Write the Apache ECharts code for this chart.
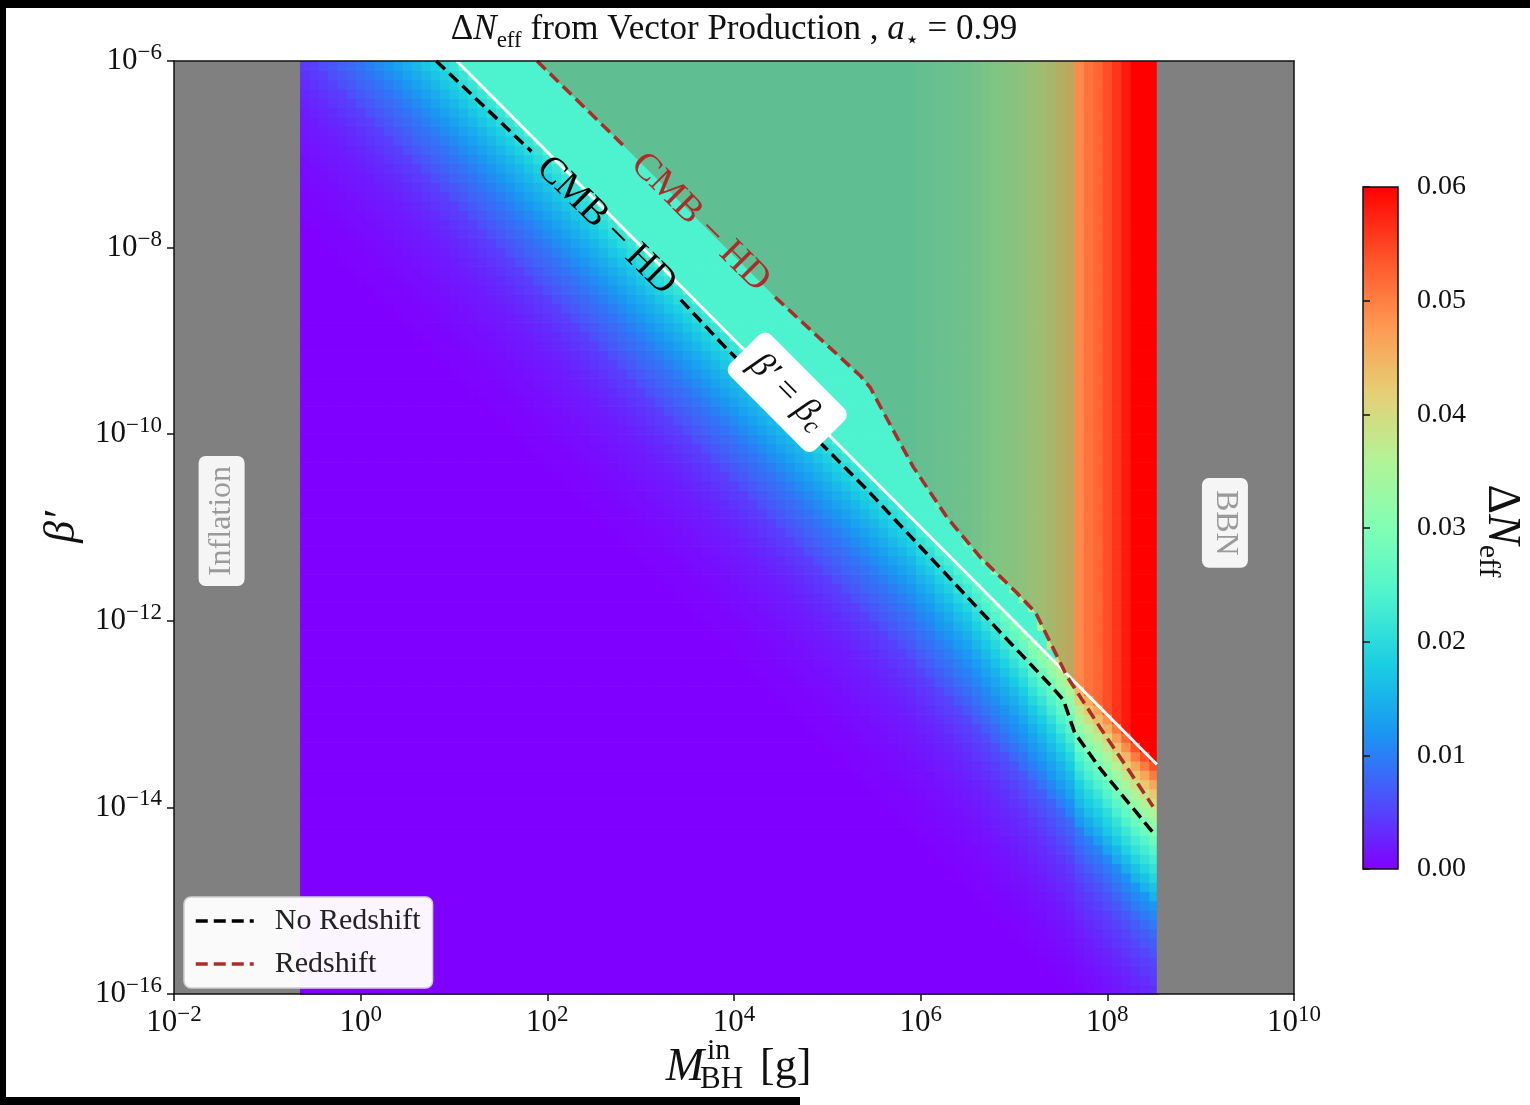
<!DOCTYPE html>
<html>
<head>
<meta charset="utf-8">
<script src="https://cdn.jsdelivr.net/npm/echarts@6/dist/echarts.min.js"></script>
<style>
  html, body { margin: 0; padding: 0; width: 1530px; height: 1105px; background: #000; overflow: hidden; }
  #paper { position: absolute; left: 6px; top: 8px; width: 1524px; height: 1097px; background: #fff; }
  #edge { position: absolute; left: 0; top: 1097px; width: 800px; height: 8px; background: #000; }
  #chart { position: absolute; left: 0; top: 0; width: 1530px; height: 1105px; }
</style>
</head>
<body>
<div id="paper"></div>
<div id="edge"></div>
<div id="chart"></div>
<script>
// ---------------- axis ranges and ticks (log10 units) ----------------
const massRange = [-2, 10];            // log10 M_BH^in [g]
const betaRange = [-16, -6];           // log10 beta'
const xTickExps = [-2, 0, 2, 4, 6, 8, 10];
const yTickExps = [-16, -14, -12, -10, -8, -6];
const cbRange = [0, 0.06];
const cbStep = 0.01;

// excluded mass windows (log10 M)
const inflationBand = [-2, -0.65];
const bbnBand = [8.53, 10];

// ---------------- Delta N_eff grid ----------------
// columns: log10 M centres starting at firstMassCol, rows: log10 beta' centres
const cellStep = 0.1;
const firstMassCol = -0.6;
const firstBetaRow = -15.95;
const betaRowCount = 100;

// Delta N_eff far above the critical line, one value per mass column (-0.6 ... 8.5)
const plateau = [
  0.024, 0.024, 0.024, 0.024, 0.024, 0.024, 0.024, 0.024, 0.024, 0.024,   // -0.6 .. 0.3
  0.024, 0.024, 0.024, 0.024, 0.024, 0.024, 0.024, 0.024, 0.024, 0.024,   //  0.4 .. 1.3
  0.024, 0.024, 0.024, 0.024, 0.024, 0.024, 0.024, 0.024, 0.024, 0.024,   //  1.4 .. 2.3
  0.024, 0.024, 0.024, 0.024, 0.024, 0.024, 0.024, 0.024, 0.024, 0.024,   //  2.4 .. 3.3
  0.024, 0.024, 0.024, 0.024, 0.024, 0.024, 0.024, 0.024, 0.024, 0.024,   //  3.4 .. 4.3
  0.024, 0.024, 0.024, 0.024, 0.024, 0.024, 0.024, 0.024, 0.024, 0.024,   //  4.4 .. 5.3
  0.024, 0.024, 0.024, 0.024, 0.024, 0.024,                               //  5.4 .. 5.9
  0.025, 0.025, 0.026, 0.026, 0.027, 0.027, 0.028, 0.029, 0.030, 0.031,   //  6.0 .. 6.9
  0.032, 0.033, 0.035, 0.036, 0.038, 0.040, 0.042, 0.049, 0.051, 0.052,   //  7.0 .. 7.9
  0.054, 0.056, 0.058, 0.060, 0.060, 0.060                                //  8.0 .. 8.5
];
// value in the strip between the critical line and the redshift curve
const stripValue = 0.024;

// fraction of the plateau value, per 0.1 decade below the critical line
const falloff = [
  0.90, 0.84, 0.77, 0.71, 0.65, 0.60, 0.55, 0.50, 0.46, 0.42,
  0.38, 0.35, 0.32, 0.28, 0.25, 0.20, 0.18, 0.16, 0.14, 0.12,
  0.105, 0.09, 0.08, 0.07, 0.06, 0.05, 0.042, 0.035, 0.028, 0.022,
  0.017, 0.012, 0.008, 0.004
];

// ---------------- curves (log10 M, log10 beta') ----------------
const criticalLine = [[1.03, -6.0], [8.53, -13.54]];
// CMB-HD reach without redshift (two pieces around the inline label)
const noRedshiftA = [[0.81, -6.0], [1.83, -6.97]];
const noRedshiftB = [[3.43, -8.56], [3.88, -9.04], [5.43, -10.60], [6.85, -12.12],
                     [7.39, -12.69], [7.53, -12.85], [7.65, -13.20], [7.92, -13.58], [8.49, -14.27]];
// CMB-HD reach with redshift
const redshiftA = [[1.89, -6.0], [2.84, -6.93]];
const redshiftB = [[4.44, -8.53], [5.24, -9.27], [5.35, -9.37], [5.46, -9.50], [5.56, -9.69], [5.92, -10.35],
                   [6.28, -10.89], [6.64, -11.32], [7.03, -11.70], [7.23, -11.91], [7.57, -12.60],
                   [7.92, -13.14], [8.49, -13.99]];
// shaded reach region stops at this mass
const shadeEdge = 7.65;

// text anchors
const criticalLabelAt = [4.57, -9.55];
const inflationLabelAt = [-1.49, -10.93];
const bbnLabelAt = [9.26, -10.95];

// rainbow colour map for Delta N_eff
const palette = ['#8000ff', '#4d4ffc', '#1a96f3', '#1acee3', '#4df3ce', '#80ffb4',
                 '#b3f396', '#e6ce74', '#ff964f', '#ff4f28', '#ff0000'];

const SERIF = '"Liberation Serif", "DejaVu Serif", serif';
const RED = '#ad2c27';
const DASH = [12, 6];

// ---------------- helpers ----------------
const p10 = e => Math.pow(10, e);
const toRaw = pts => pts.map(p => [p10(p[0]), p10(p[1])]);
function lineAt(pts, lm) {
  let i = 0;
  while (i < pts.length - 2 && lm > pts[i + 1][0]) i++;
  const a = pts[i], b = pts[i + 1];
  return a[1] + (b[1] - a[1]) * (lm - a[0]) / (b[0] - a[0]);
}
function supExp(e) { return e < 0 ? '\u2212' + (-e) : String(e); }

const redFull = redshiftA.concat(redshiftB);

// build heatmap cells from the column plateau, the strip value and the fall-off below the critical line
const cells = [];
plateau.forEach((p, i) => {
  const lm = firstMassCol + i * cellStep;
  const lbc = lineAt(criticalLine, lm);
  const lbr = lineAt(redFull, lm);
  for (let j = 0; j < betaRowCount; j++) {
    const lb = firstBetaRow + j * cellStep;
    const d = lbc - lb;
    let v;
    if (d > 0) {
      const k = Math.floor(d / cellStep + 1e-9);
      v = k < falloff.length ? p * falloff[k] : 0;
    } else {
      v = lb < lbr ? Math.min(p, stripValue) : p;
    }
    cells.push([p10(lm), p10(lb), v]);
  }
});

// shaded region above the redshift curve, left of shadeEdge
const shadePoly = redFull.filter(p => p[0] < shadeEdge);
shadePoly.push([shadeEdge, lineAt(redFull, shadeEdge)]);
shadePoly.push([shadeEdge, betaRange[1]]);

const chart = echarts.init(document.getElementById('chart'), null, { renderer: 'canvas' });

function rich(size) {
  return {
    b: { fontSize: size, fontFamily: SERIF, color: '#111', lineHeight: size + 8, verticalAlign: 'middle' },
    s: { fontSize: Math.round(size * 0.74), fontFamily: SERIF, color: '#111', lineHeight: Math.round(size * 0.62), verticalAlign: 'top' }
  };
}

const frameAxis = { show: true, lineStyle: { color: '#111', width: 1.5 } };

const option = {
  animation: false,
  backgroundColor: 'transparent',
  grid: [
    { left: 174, top: 61, width: 1120, height: 933 },
    { left: 1363, top: 187, width: 35, height: 682 }
  ],
  xAxis: [
    {
      type: 'log', gridIndex: 0, logBase: 10, min: p10(massRange[0]), max: p10(massRange[1]), interval: 2,
      position: 'bottom', z: 10,
      axisLine: frameAxis,
      axisTick: { show: true, inside: false, length: 7, lineStyle: { color: '#111', width: 1.5 },
                  customValues: xTickExps.map(p10) },
      axisLabel: {
        margin: 9, customValues: xTickExps.map(p10),
        formatter: v => '{b|10}{s|' + supExp(Math.round(Math.log10(v))) + '}',
        rich: rich(31)
      },
      splitLine: { show: false }, minorTick: { show: false }
    },
    {
      type: 'log', gridIndex: 0, logBase: 10, min: p10(massRange[0]), max: p10(massRange[1]),
      position: 'top', z: 10, axisLine: frameAxis,
      axisTick: { show: false }, axisLabel: { show: false }, splitLine: { show: false }
    },
    { type: 'value', gridIndex: 1, min: 0, max: 1, show: false }
  ],
  yAxis: [
    {
      type: 'log', gridIndex: 0, logBase: 10, min: p10(betaRange[0]), max: p10(betaRange[1]), interval: 2,
      position: 'left', z: 10,
      axisLine: frameAxis,
      axisTick: { show: true, inside: false, length: 7, lineStyle: { color: '#111', width: 1.5 },
                  customValues: yTickExps.map(p10) },
      axisLabel: {
        margin: 12, customValues: yTickExps.map(p10),
        formatter: v => '{b|10}{s|' + supExp(Math.round(Math.log10(v))) + '}',
        rich: rich(31)
      },
      splitLine: { show: false }, minorTick: { show: false }
    },
    {
      type: 'log', gridIndex: 0, logBase: 10, min: p10(betaRange[0]), max: p10(betaRange[1]),
      position: 'right', z: 10, axisLine: frameAxis,
      axisTick: { show: false }, axisLabel: { show: false }, splitLine: { show: false }
    },
    {
      type: 'value', gridIndex: 1, min: cbRange[0], max: cbRange[1], interval: cbStep, position: 'right', z: 10,
      axisLine: { show: false },
      axisTick: { show: true, inside: false, length: 7, lineStyle: { color: '#111', width: 1.5 } },
      axisLabel: { margin: 19, fontSize: 28, fontFamily: SERIF, color: '#111', formatter: v => v.toFixed(2) },
      splitLine: { show: false }
    }
  ],
  visualMap: {
    show: false, type: 'continuous', min: cbRange[0], max: cbRange[1], dimension: 2, seriesIndex: 0,
    inRange: { color: palette }
  },
  legend: {
    data: ['No Redshift', 'Redshift'],
    orient: 'vertical', left: 184, top: 897,
    backgroundColor: 'rgba(255,255,255,0.96)', borderColor: '#cfcfcf', borderWidth: 1.5, borderRadius: 7,
    padding: [9, 12, 9, 10], itemGap: 13, itemWidth: 58, itemHeight: 14,
    itemStyle: { opacity: 0 },
    lineStyle: { width: 3.5, type: DASH, cap: 'butt' },
    textStyle: { fontFamily: SERIF, fontSize: 30, color: '#222', padding: [0, 0, 0, 16] }
  },
  graphic: [
    {
      type: 'text', x: 734, y: 30, z: 20,
      style: {
        text: '{d|\u0394}{i|N}{u|eff}{r| from Vector Production , }{i|a}{u|\u22c6}{r| = 0.99}',
        align: 'center', verticalAlign: 'middle',
        rich: {
          d: { fontSize: 35, fontFamily: SERIF, fill: '#111', lineHeight: 44, verticalAlign: 'middle' },
          i: { fontSize: 35, fontFamily: SERIF, fontStyle: 'italic', fill: '#111', lineHeight: 44, verticalAlign: 'middle' },
          r: { fontSize: 35, fontFamily: SERIF, fill: '#111', lineHeight: 44, verticalAlign: 'middle' },
          u: { fontSize: 23, fontFamily: SERIF, fill: '#111', lineHeight: 24, verticalAlign: 'bottom' }
        }
      }
    },
    { type: 'text', x: 685, y: 1068, z: 20,
      style: { text: 'M', font: 'italic 46px ' + SERIF, fill: '#111', align: 'center', verticalAlign: 'middle' } },
    { type: 'text', x: 707, y: 1051, z: 20,
      style: { text: 'in', font: '30px ' + SERIF, fill: '#111', align: 'left', verticalAlign: 'middle' } },
    { type: 'text', x: 700, y: 1080, z: 20,
      style: { text: 'BH', font: '31px ' + SERIF, fill: '#111', align: 'left', verticalAlign: 'middle' } },
    { type: 'text', x: 760, y: 1067, z: 20,
      style: { text: '[g]', font: '44px ' + SERIF, fill: '#111', align: 'left', verticalAlign: 'middle' } },
    { type: 'text', x: 62, y: 527, rotation: Math.PI / 2, z: 20,
      style: { text: '\u03b2\u2032', font: 'italic 44px ' + SERIF, fill: '#111', align: 'center', verticalAlign: 'middle' } },
    {
      type: 'text', x: 1501, y: 531, rotation: -Math.PI / 2, z: 20,
      style: {
        text: '{d|\u0394}{i|N}{u|eff}', align: 'center', verticalAlign: 'middle',
        rich: {
          d: { fontSize: 46, fontFamily: SERIF, fill: '#111', lineHeight: 56, verticalAlign: 'middle' },
          i: { fontSize: 46, fontFamily: SERIF, fontStyle: 'italic', fill: '#111', lineHeight: 56, verticalAlign: 'middle' },
          u: { fontSize: 30, fontFamily: SERIF, fill: '#111', lineHeight: 30, verticalAlign: 'bottom' }
        }
      }
    }
  ],
  series: [
    // 0: Delta N_eff heatmap
    {
      type: 'custom', name: 'heat', xAxisIndex: 0, yAxisIndex: 0, z: 1, progressive: 0, silent: true,
      dimensions: ['M', 'beta', 'dN'], encode: { x: 0, y: 1 },
      data: cells,
      renderItem: (params, api) => {
        const m = api.value(0), b = api.value(1);
        const h = p10(cellStep / 2);
        const a = api.coord([m / h, b * h]);
        const c = api.coord([m * h, b / h]);
        return { type: 'rect', shape: { x: a[0], y: a[1], width: c[0] - a[0] + 0.7, height: c[1] - a[1] + 0.7 },
                 style: { fill: api.visual('color') } };
      }
    },
    // 1: excluded mass windows
    {
      type: 'custom', name: 'bands', xAxisIndex: 0, yAxisIndex: 0, z: 2, silent: true,
      encode: { x: 0 }, data: [inflationBand, bbnBand].map(r => [p10(r[0]), p10(r[1])]),
      renderItem: (params, api) => {
        const a = api.coord([api.value(0), p10(betaRange[1])]);
        const c = api.coord([api.value(1), p10(betaRange[0])]);
        return { type: 'rect', shape: { x: a[0], y: a[1], width: c[0] - a[0], height: c[1] - a[1] },
                 style: { fill: '#808080' } };
      }
    },
    // 2: shaded region reached with redshift
    {
      type: 'custom', name: 'shade', xAxisIndex: 0, yAxisIndex: 0, z: 3, silent: true,
      data: [[1, 1e-10]],
      renderItem: (params, api) => ({
        type: 'polygon',
        shape: { points: toRaw(shadePoly).map(p => api.coord(p)) },
        style: { fill: 'rgba(124,110,61,0.40)' }
      })
    },
    // 3: critical line
    {
      type: 'line', name: 'critical', xAxisIndex: 0, yAxisIndex: 0, z: 4, symbol: 'none', silent: true,
      data: toRaw(criticalLine), lineStyle: { color: '#fff', width: 3 }
    },
    // 4-5: no redshift
    {
      type: 'line', name: 'No Redshift', xAxisIndex: 0, yAxisIndex: 0, z: 5, symbol: 'none', silent: true,
      data: toRaw(noRedshiftA), lineStyle: { color: '#000', width: 3.5, type: DASH }, itemStyle: { color: '#000' }
    },
    {
      type: 'line', name: 'No Redshift', xAxisIndex: 0, yAxisIndex: 0, z: 5, symbol: 'none', silent: true,
      data: toRaw(noRedshiftB), lineStyle: { color: '#000', width: 3.5, type: DASH }, itemStyle: { color: '#000' }
    },
    // 6-7: redshift
    {
      type: 'line', name: 'Redshift', xAxisIndex: 0, yAxisIndex: 0, z: 5, symbol: 'none', silent: true,
      data: toRaw(redshiftA), lineStyle: { color: RED, width: 3.5, type: DASH }, itemStyle: { color: RED }
    },
    {
      type: 'line', name: 'Redshift', xAxisIndex: 0, yAxisIndex: 0, z: 5, symbol: 'none', silent: true,
      data: toRaw(redshiftB), lineStyle: { color: RED, width: 3.5, type: DASH }, itemStyle: { color: RED }
    },
    // 8: annotations
    {
      type: 'custom', name: 'notes', xAxisIndex: 0, yAxisIndex: 0, z: 6, silent: true,
      data: [[1, 1e-10]],
      renderItem: (params, api) => {
        const px = p => api.coord([p10(p[0]), p10(p[1])]);
        function along(a, b, text, color) {
          const pa = px(a), pb = px(b);
          return {
            type: 'text', x: (pa[0] + pb[0]) / 2, y: (pa[1] + pb[1]) / 2,
            rotation: -Math.atan2(pb[1] - pa[1], pb[0] - pa[0]),
            style: { text: text, font: '38px ' + SERIF, fill: color, align: 'center', verticalAlign: 'middle' }
          };
        }
        const c0 = px(criticalLine[0]), c1 = px(criticalLine[1]);
        const cAt = px(criticalLabelAt);
        const iAt = px(inflationLabelAt), bAt = px(bbnLabelAt);
        return {
          type: 'group',
          children: [
            along(noRedshiftA[noRedshiftA.length - 1], noRedshiftB[0], 'CMB \u2212 HD', '#000'),
            along(redshiftA[redshiftA.length - 1], redshiftB[0], 'CMB \u2212 HD', RED),
            {
              type: 'text', x: cAt[0], y: cAt[1], rotation: -Math.atan2(c1[1] - c0[1], c1[0] - c0[0]),
              style: {
                text: '{i|\u03b2\u2032}{r| = }{i|\u03b2}{u|c}', align: 'center', verticalAlign: 'middle',
                backgroundColor: '#fff', borderRadius: 9, padding: [9, 14, 9, 14],
                rich: {
                  i: { fontSize: 36, fontFamily: SERIF, fontStyle: 'italic', fill: '#111', lineHeight: 40, verticalAlign: 'middle' },
                  r: { fontSize: 36, fontFamily: SERIF, fill: '#111', lineHeight: 40, verticalAlign: 'middle' },
                  u: { fontSize: 25, fontFamily: SERIF, fontStyle: 'italic', fill: '#111', lineHeight: 24, verticalAlign: 'bottom' }
                }
              }
            },
            {
              type: 'text', x: iAt[0], y: iAt[1], rotation: Math.PI / 2,
              style: { text: 'Inflation', font: '32px ' + SERIF, fill: '#9a9a9a', align: 'center', verticalAlign: 'middle',
                       backgroundColor: 'rgba(255,255,255,0.92)', borderRadius: 7, padding: [8, 10, 6, 10] }
            },
            {
              type: 'text', x: bAt[0], y: bAt[1], rotation: -Math.PI / 2,
              style: { text: 'BBN', font: '32px ' + SERIF, fill: '#9a9a9a', align: 'center', verticalAlign: 'middle',
                       backgroundColor: 'rgba(255,255,255,0.92)', borderRadius: 7, padding: [8, 12, 6, 12] }
            }
          ]
        };
      }
    },
    // 9: colour bar
    {
      type: 'custom', name: 'colorbar', xAxisIndex: 2, yAxisIndex: 2, z: 2, silent: true,
      data: [[0.5, 0.03]],
      renderItem: (params, api) => {
        const a = api.coord([0, cbRange[1]]);
        const c = api.coord([1, cbRange[0]]);
        return {
          type: 'rect', shape: { x: a[0], y: a[1], width: c[0] - a[0], height: c[1] - a[1] },
          style: {
            fill: new echarts.graphic.LinearGradient(0, 1, 0, 0,
              palette.map((col, i) => ({ offset: i / (palette.length - 1), color: col }))),
            stroke: '#111', lineWidth: 1.5
          }
        };
      }
    }
  ]
};

chart.setOption(option);
</script>
</body>
</html>
